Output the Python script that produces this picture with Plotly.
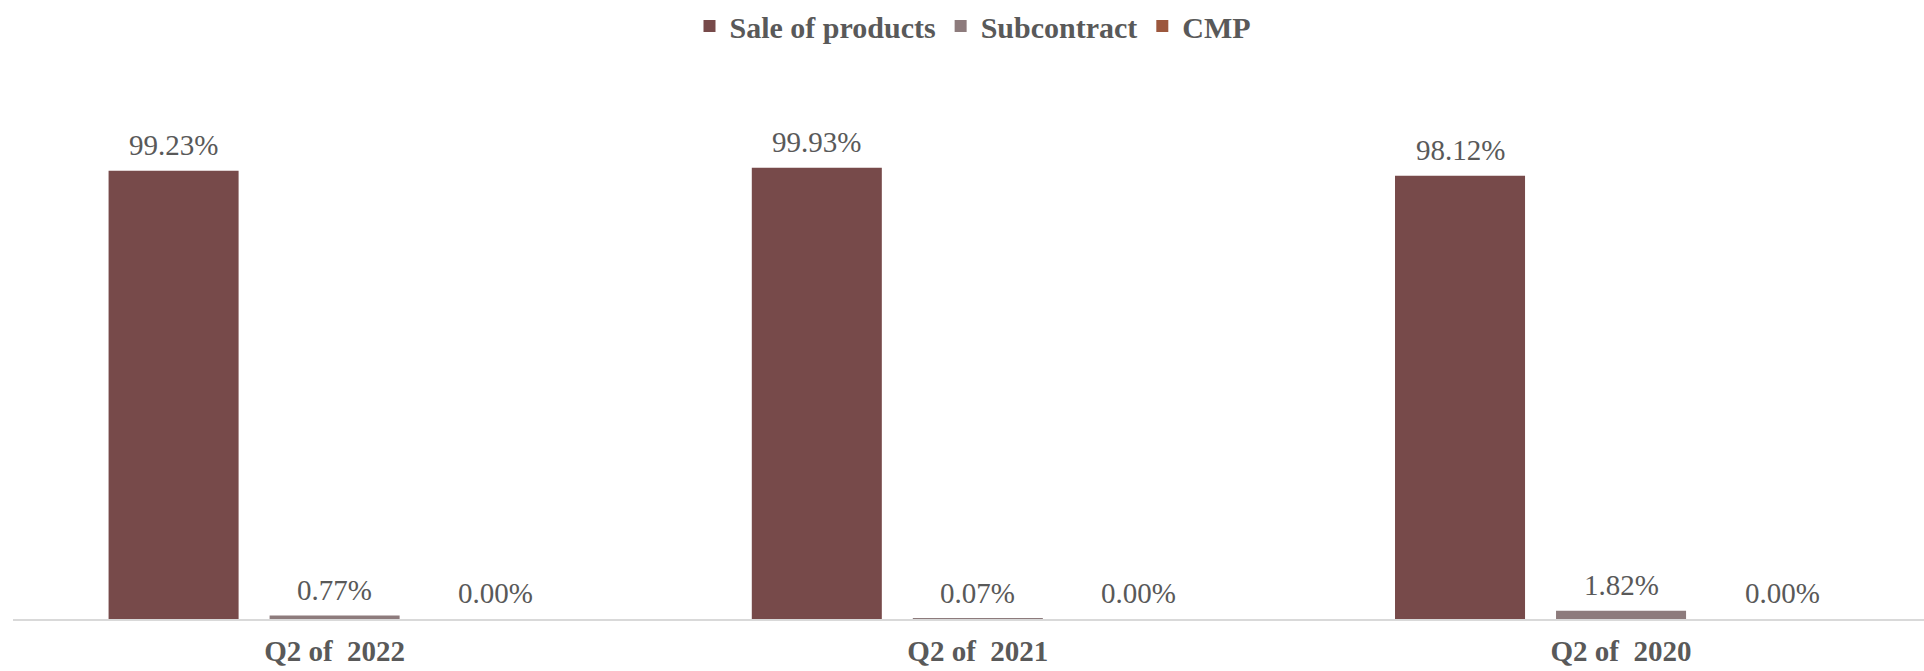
import plotly.graph_objects as go

# Revenue structure by quarter (share of total revenue)
categories = ["Q2 of  2022", "Q2 of  2021", "Q2 of  2020"]
sale_of_products = [0.9923, 0.9993, 0.9812]
subcontract = [0.0077, 0.0007, 0.0182]
cmp_share = [0.0000, 0.0000, 0.0000]

series_names = ["Sale of products", "Subcontract", "CMP"]
series_values = [sale_of_products, subcontract, cmp_share]
series_colors = ["#774a4a", "#8d7b7c", "#9c573d"]

FONT = "Liberation Serif"
TEXT_COLOR = "#595959"
BARGAP = 0.249
BARGROUPGAP = 0.1925

fig = go.Figure()
for name, vals, color in zip(series_names, series_values, series_colors):
    fig.add_trace(go.Bar(
        name=name,
        x=categories,
        y=vals,
        marker=dict(color=color, line=dict(width=0)),
        hoverinfo="skip",
    ))

# value labels above each bar
slot = (1 - BARGAP) / len(series_names)
annotations = []
for k, vals in enumerate(series_values):
    for i, v in enumerate(vals):
        annotations.append(dict(
            x=i + (k - 1) * slot,
            y=v,
            xref="x", yref="y",
            text=f"{v * 100:.2f}%",
            showarrow=False,
            yanchor="bottom",
            yshift=8,
            font=dict(family=FONT, size=29, color=TEXT_COLOR),
        ))

fig.update_layout(
    width=1924,
    height=671,
    margin=dict(l=13, r=0, t=77, b=52, autoexpand=False),
    paper_bgcolor="white",
    plot_bgcolor="white",
    barmode="group",
    bargap=BARGAP,
    bargroupgap=BARGROUPGAP,
    showlegend=True,
    legend=dict(
        orientation="h",
        x=0.354, xanchor="left",
        y=1.0, yref="container", yanchor="top",
        font=dict(family=FONT, size=30, color=TEXT_COLOR, weight="bold"),
        itemwidth=30,
        tracegroupgap=0,
    ),
    annotations=annotations,
    xaxis=dict(
        type="category",
        range=[-0.5, 2.471],
        showline=True,
        linecolor="#d9d9d9",
        linewidth=2,
        showgrid=False,
        ticks="",
        ticklabelstandoff=5,
        tickfont=dict(family=FONT, size=29, color=TEXT_COLOR, weight="bold"),
    ),
    yaxis=dict(
        range=[0, 1.2],
        visible=False,
        showgrid=False,
        zeroline=False,
    ),
)

fig.write_html("out.html")
